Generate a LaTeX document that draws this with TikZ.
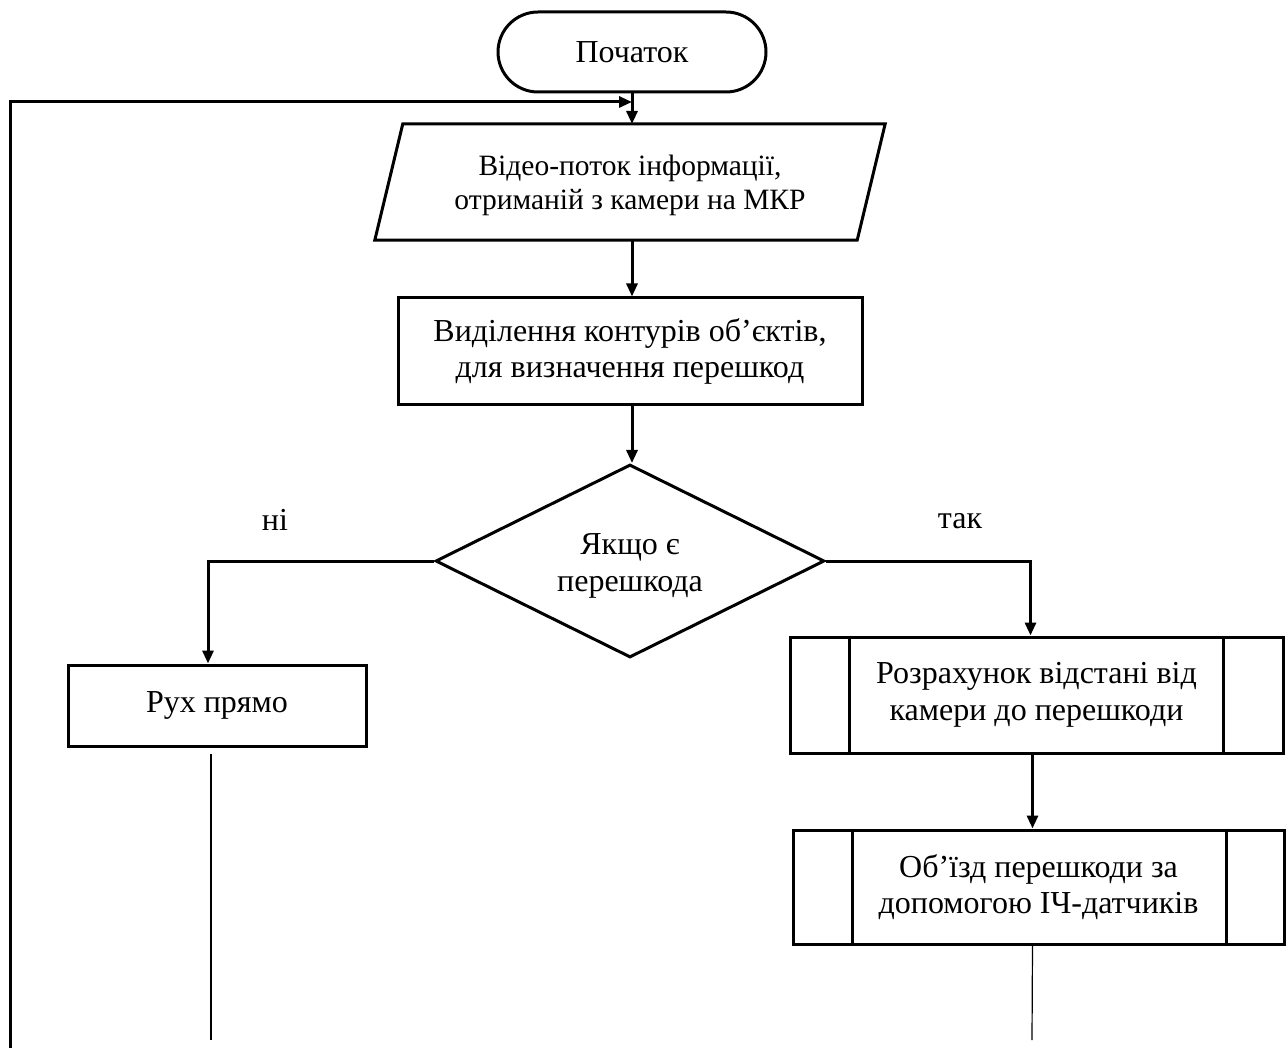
\documentclass[tikz,border=0pt]{standalone}
\usepackage{fontspec}
\setmainfont{Liberation Serif}
\usetikzlibrary{arrows.meta,shapes.geometric,shapes.misc,calc}
\begin{document}
\begin{tikzpicture}[x=1pt,y=-1pt,
  txt/.style={font=\fontsize{32}{36.5}\selectfont,align=center,inner sep=0pt},
  smalltxt/.style={font=\fontsize{29.5}{34}\selectfont,align=center,inner sep=0pt},
  box/.style={txt,draw,line width=3pt},
  arr/.style={line width=3pt,-{Triangle[length=13pt,width=11pt]}},
  ln/.style={line width=3pt},
  thinln/.style={line width=1.2pt}]
\useasboundingbox (0,0) rectangle (1286,1048);
% nodes
\node[box,rounded rectangle,minimum width=268pt,minimum height=80pt] (start) at (632,52) {Початок};
\node[smalltxt,minimum width=482pt,minimum height=116pt] (in) at (630,185) {Відео-поток інформації,\\отриманій з камери на МКР};
\draw[ln] ($(in.north west)+(14,-3)$) -- ($(in.north east)+(14,-3)$) -- ($(in.south east)+(-14,-3)$) -- ($(in.south west)+(-14,-3)$) -- cycle;
\node[box,minimum width=464pt,minimum height=107pt] (cont) at (630,351.5) {Виділення контурів об’єктів,\\для визначення перешкод};
\node[draw,line width=3pt,diamond,aspect=2,minimum width=389pt,minimum height=193pt,inner sep=0pt] (dia) at (630,561) {};
\node[txt] (diatxt) at (630,566) {Якщо є\\перешкода};
\node[box,minimum width=298pt,minimum height=81pt] (move) at (217,705.5) {Рух прямо};
\node[box,minimum width=493pt,minimum height=116pt] (p1) at (1036.5,695) {Розрахунок відстані від\\камери до перешкоди};
\draw[ln] ($(p1.north west)+(61,0)$) -- ($(p1.south west)+(61,0)$);
\draw[ln] ($(p1.north east)+(-61,0)$) -- ($(p1.south east)+(-61,0)$);
\node[box,minimum width=491pt,minimum height=114pt] (p2) at (1038.5,887) {Об’їзд перешкоди за\\допомогою ІЧ-датчиків};
\draw[ln] ($(p2.north west)+(61,0)$) -- ($(p2.south west)+(61,0)$);
\draw[ln] ($(p2.north east)+(-59,0)$) -- ($(p2.south east)+(-59,0)$);
\node[txt] (no) at (275,520) {ні};
\node[txt] (yes) at (960,521) {так};
% coordinates
\coordinate (join) at (start.south |- 0,102);
\coordinate (lb) at (10,1048);
\coordinate (lend) at (211,1040);
\coordinate (rend) at (1032,1040);
% connectors
\draw[arr] (start.south) -- (start.south |- 0,124);
\draw[arr] (lb) |- (join);
\draw[arr] (start.south |- 0,240) -- (start.south |- cont.north);
\draw[arr] (start.south |- cont.south) -- (start.south |- dia.north);
\draw[arr] (dia.west) -| ($(move.north)+(-9,0)$);
\draw[arr] (dia.east) -| ($(p1.north)+(-6,0)$);
\draw[arr] ($(p1.south)+(-4,0)$) -- ($(p2.north)+(-6,0)$);
\draw[thinln] ($(move.south)+(-6,6)$) -- (lend);
\draw[thinln] ($(p2.south)+(-6,0)$) -- (rend);
\end{tikzpicture}
\end{document}
